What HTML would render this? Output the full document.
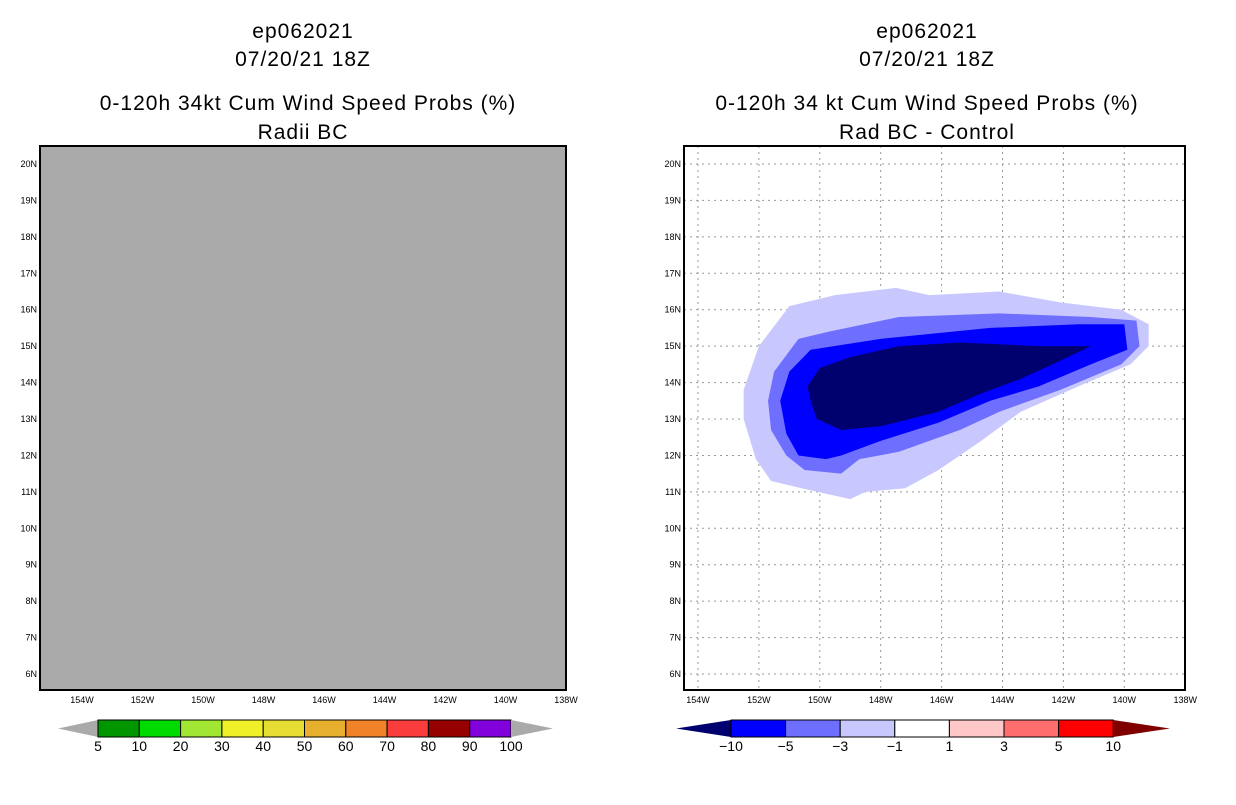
<!DOCTYPE html>
<html><head><meta charset="utf-8"><style>
body{margin:0;background:#fff;width:1236px;height:800px;overflow:hidden;font-family:"Liberation Sans",sans-serif}
</style></head><body>
<svg id="svg" width="1236" height="800" xmlns="http://www.w3.org/2000/svg" font-family="Liberation Sans, sans-serif">
<g font-size="21" text-anchor="middle" fill="#000" letter-spacing="1">
<text x="303" y="38">ep062021</text>
<text x="303" y="66">07/20/21 18Z</text>
<text x="308" y="110">0-120h 34kt Cum Wind Speed Probs (%)</text>
<text x="303" y="139">Radii BC</text>
<text x="927" y="38">ep062021</text>
<text x="927" y="66">07/20/21 18Z</text>
<text x="927" y="110">0-120h 34 kt Cum Wind Speed Probs (%)</text>
<text x="927" y="139">Rad BC - Control</text>
</g>
<rect x="40" y="146" width="526" height="544" fill="#aaaaaa" stroke="#000" stroke-width="2"/>
<rect x="684" y="146" width="501" height="544" fill="#fff"/>
<g id="rgrid"></g>
<g id="rcont"></g>
<rect x="684" y="146" width="501" height="544" fill="none" stroke="#000" stroke-width="2"/>
<g id="axes" font-size="9" fill="#000"></g>
<g id="cbars"></g>
</svg>
<script>
const lonTicks=[-154,-152,-150,-148,-146,-144,-142,-140,-138];
const latTicks=[6,7,8,9,10,11,12,13,14,15,16,17,18,19,20];
const leftLevels=["5","10","20","30","40","50","60","70","80","90","100"];
const leftColors=["#009600","#00dc00","#a0e632","#f0f028","#e6dc32","#e6af2d","#f08228","#fa3c3c","#960000","#8200dc"];
const rightLevels=["\u221210","\u22125","\u22123","\u22121","1","3","5","10"];
const rightColors=["#0000ff","#6e6eff","#c8c8ff","#ffffff","#ffc8c8","#ff6e6e","#ff0000"];
const outerLon=[-152.5,-152.0,-151.0,-149.5,-147.5,-146.4,-144.1,-142.1,-140.1,-139.2,-139.2,-139.8,-141.5,-143.4,-144.7,-146.1,-147.2,-148.5,-149.0,-150.6,-151.6,-152.1,-152.5];
const outerLat=[13.8,15.0,16.1,16.4,16.6,16.4,16.5,16.2,16.0,15.6,15.0,14.5,13.9,13.2,12.4,11.6,11.1,11.0,10.8,11.1,11.3,11.9,13.0];
const midLon=[-151.7,-151.5,-150.7,-149.7,-147.4,-144.1,-141.1,-139.6,-139.5,-140.1,-142.1,-144.1,-145.4,-147.4,-148.7,-149.3,-150.5,-151.1,-151.6];
const midLat=[13.5,14.3,15.2,15.4,15.8,15.9,15.8,15.7,15.0,14.5,13.8,13.2,12.7,12.1,11.9,11.5,11.6,12.0,12.7];
const blueLon=[-151.3,-151.0,-150.3,-148.0,-144.4,-141.5,-140.0,-139.9,-141.1,-142.8,-144.4,-146.1,-148.0,-149.3,-149.8,-150.7,-151.1];
const blueLat=[13.5,14.3,14.9,15.2,15.5,15.6,15.6,14.9,14.5,13.9,13.5,12.9,12.4,12.0,11.9,12.0,12.6];
const navyLon=[-150.4,-150.0,-149.0,-147.4,-145.4,-142.8,-141.1,-142.1,-143.4,-144.7,-146.1,-148.0,-149.3,-150.1,-150.3];
const navyLat=[13.9,14.4,14.7,15.0,15.1,15.0,15.0,14.6,14.1,13.7,13.2,12.8,12.7,13.0,13.5];

const NS="http://www.w3.org/2000/svg";
function mk(t,a,p){const e=document.createElementNS(NS,t);for(const k in a)e.setAttribute(k,a[k]);p.appendChild(e);return e;}
const yOf=lat=>164+(20-lat)*36.43;
const xL=lon=>82+(lon+154)*30.25;
const xR=lon=>698+(lon+154)*30.45;
const grid=document.getElementById('rgrid'),axes=document.getElementById('axes'),cont=document.getElementById('rcont'),cb=document.getElementById('cbars');
lonTicks.forEach(l=>{
  const g=mk('line',{x1:xR(l),x2:xR(l),y1:146,y2:690,stroke:'#999',"stroke-dasharray":'2,4'},grid);
  
  
  const lab=(-l)+'W';
  [[xL,'left'],[xR,'right']].forEach(([f,s])=>{
    const t=mk('text',{x:f(l),y:703,"text-anchor":'middle'},axes);t.textContent=lab;
    
    
  });
});
latTicks.forEach(l=>{
  const g=mk('line',{x1:684,x2:1185,y1:yOf(l),y2:yOf(l),stroke:'#999',"stroke-dasharray":'2,4'},grid);
  
  
  [[37,'left'],[681,'right']].forEach(([x,s])=>{
    const t=mk('text',{x:x,y:yOf(l)+3,"text-anchor":'end'},axes);t.textContent=l+'N';
    
    
  });
});
[[outerLon,outerLat,'#c8c8ff','contour-minus1'],[midLon,midLat,'#6e6eff','contour-minus3'],[blueLon,blueLat,'#0000ff','contour-minus5'],[navyLon,navyLat,'#00006e','contour-minus10']].forEach(([lo,la,c,n])=>{
  const p=mk('polygon',{points:lo.map((v,i)=>xR(v)+','+yOf(la[i])).join(' '),fill:c},cont);
  
  
});
// left colorbar
const lx0=98,lw=41.3,cy0=720,cy1=737;
let tr=mk('polygon',{points:`58,${(cy0+cy1)/2} ${lx0},${cy0} ${lx0},${cy1}`,fill:'#aaa'},cb);


leftColors.forEach((c,i)=>{
  const r=mk('rect',{x:lx0+i*lw,y:cy0,width:lw,height:cy1-cy0,fill:c,stroke:'#000'},cb);
  
  
});
tr=mk('polygon',{points:`${lx0+10*lw},${cy0} ${lx0+10*lw},${cy1} 553,${(cy0+cy1)/2}`,fill:'#aaa'},cb);


leftLevels.forEach((s,i)=>{
  const t=mk('text',{x:lx0+i*lw,y:751,"text-anchor":'middle',"font-size":14},cb);t.textContent=s;
  
  
});
// right colorbar
const rx0=731,rw=54.6;
tr=mk('polygon',{points:`676,${(cy0+cy1)/2} ${rx0},${cy0} ${rx0},${cy1}`,fill:'#00006e'},cb);


rightColors.forEach((c,i)=>{
  const r=mk('rect',{x:rx0+i*rw,y:cy0,width:rw,height:cy1-cy0,fill:c,stroke:'#000'},cb);
  
  
});
tr=mk('polygon',{points:`${rx0+7*rw},${cy0} ${rx0+7*rw},${cy1} 1170,${(cy0+cy1)/2}`,fill:'#800000'},cb);


rightLevels.forEach((s,i)=>{
  const t=mk('text',{x:rx0+i*rw,y:751,"text-anchor":'middle',"font-size":14},cb);t.textContent=s;
  
  
});
</script>
</body></html>
